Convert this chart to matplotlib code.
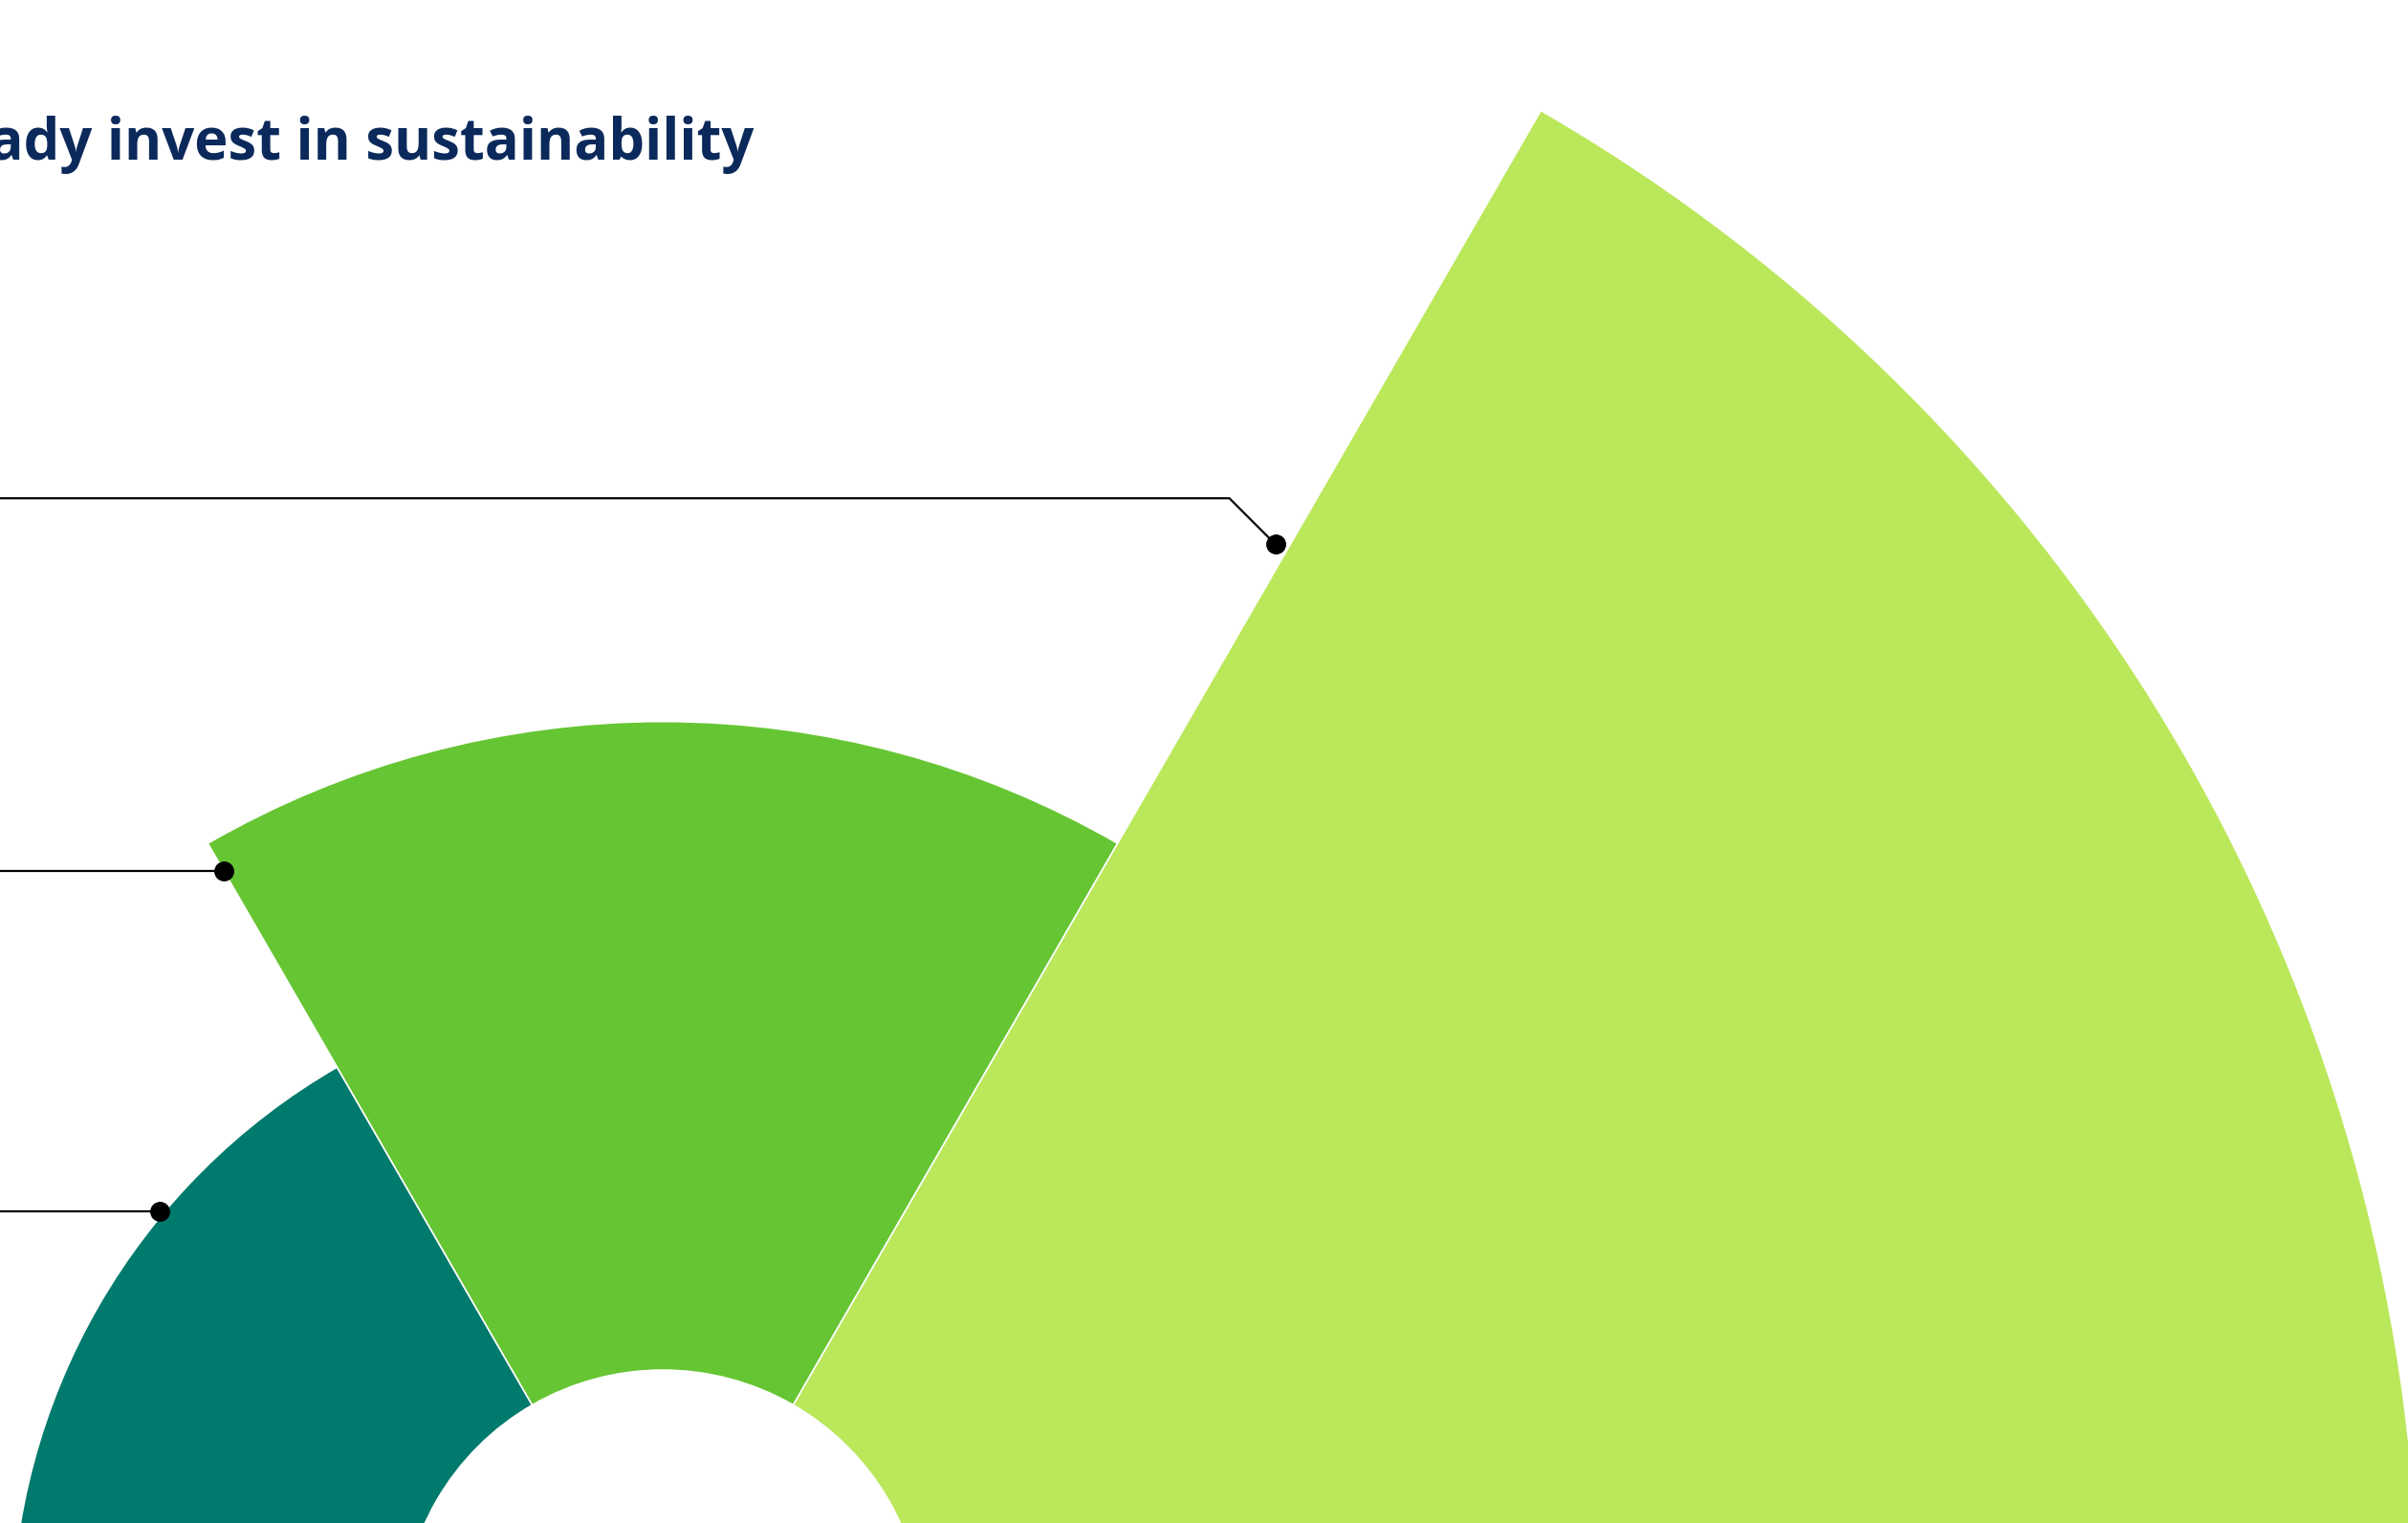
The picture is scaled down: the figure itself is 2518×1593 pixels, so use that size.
import numpy as np
import matplotlib
matplotlib.use("Agg")
import matplotlib.pyplot as plt

# ---- data ----
categories = ["Not yet", "Planning to", "Already invest"]
values = [15.4, 25.6, 59.0]          # share (%)
colors = ["#007A6C", "#66C533", "#BBE75B"]
title = "Already invest in sustainability"

# ---- layout / style ----
W, H = 2518, 1593
DPI = 100
INNER = 10.3                 # radius of the central hole (data units)
PX_PER_UNIT = 26.5
RMAX = 80
CX, CY = 693, 1706           # centre of the half-rose in pixels (from top-left)
# leader anchors: (angle in degrees, radius as fraction along the bar, elbow)
anchors = [(140.2, 1.01, False), (120.0, 0.95, False), (60.6, 0.66, True)]

fig = plt.figure(figsize=(W / DPI, H / DPI), dpi=DPI)
R = RMAX * PX_PER_UNIT
cy_disp = H - CY
ax = fig.add_axes([(CX - R) / W, (cy_disp - R) / H, 2 * R / W, 2 * R / H],
                  projection="polar")
ax.set_ylim(0, RMAX)
ax.set_axis_off()

n = len(values)
span = 180.0 / n
thetas = np.deg2rad([180 - span * (i + 0.5) for i in range(n)])
ax.bar(thetas, values, width=np.deg2rad(span), bottom=INNER, color=colors,
       edgecolor="white", linewidth=1.2, align="center", zorder=2)

# overlay axes in pixel coordinates (origin top-left)
ov = fig.add_axes([0, 0, 1, 1], zorder=5)
ov.set_xlim(0, W)
ov.set_ylim(H, 0)
ov.set_axis_off()
ov.patch.set_alpha(0)

for (ang, frac, elbow), v in zip(anchors, values):
    r = INNER + v * frac
    xd, yd = ax.transData.transform((np.deg2rad(ang), r))
    x, y = xd, H - yd
    if elbow:
        ex, ey = x - 48, y - 48
        ov.plot([x, ex, -50], [y, ey, ey], color="black", lw=1.6,
                solid_joinstyle="miter")
    else:
        ov.plot([x, -50], [y, y], color="black", lw=1.6)
    ov.plot([x], [y], "o", color="black", markersize=14)

fig.text(788 / W, 1 - 167 / H, title, ha="right", va="baseline",
         fontsize=43, fontweight="bold", color="#0B2A5B", family="Open Sans")

fig.savefig("out.png", dpi=DPI)
